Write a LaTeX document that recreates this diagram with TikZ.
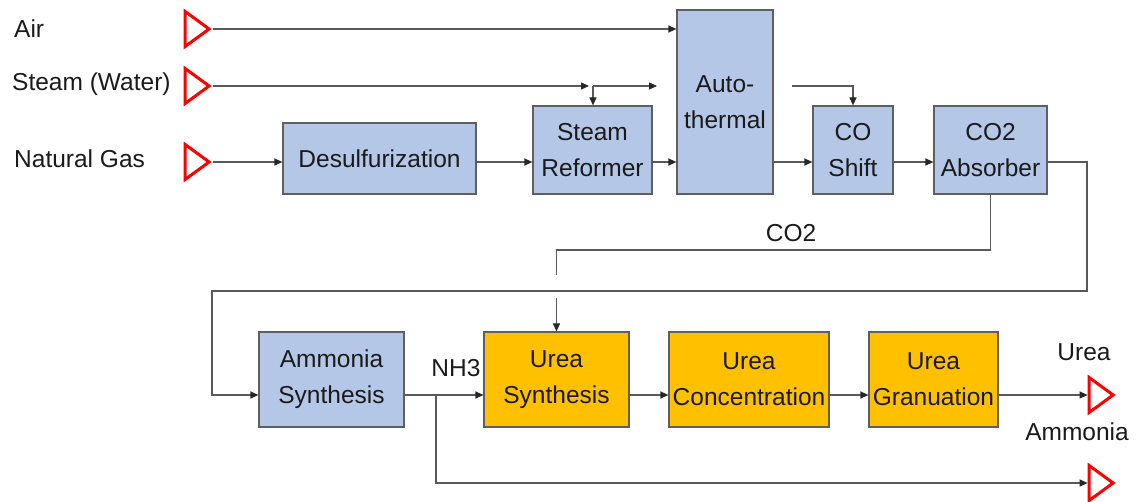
\documentclass[tikz,border=0pt]{standalone}
\usepackage{fontspec}
\setmainfont{Liberation Sans}
\usetikzlibrary{arrows.meta,shapes.geometric}

\definecolor{procblue}{HTML}{B4C7E7}
\definecolor{ureaorange}{HTML}{FFC000}
\definecolor{boxline}{HTML}{5F5F5F}
\definecolor{flowgray}{HTML}{595959}
\definecolor{txt}{HTML}{1A1A1A}

\begin{document}
\begin{tikzpicture}[x=1pt,y=-1pt,
  lbl/.style={inner sep=0pt, text=txt, font=\fontsize{24.5}{36}\selectfont},
  box/.style={draw=boxline, line width=1.2pt, inner sep=0pt, align=center,
              text=txt, font=\fontsize{24.5}{36}\selectfont},
  proc/.style={box, fill=procblue},
  urea/.style={box, fill=ureaorange},
  pipe/.style={draw=flowgray, line width=1.2pt},
  flow/.style={pipe, -{Triangle[length=8pt,width=7pt,color=black!85]}},
  port/.style={isosceles triangle, isosceles triangle stretches,
               minimum width=35pt, minimum height=24pt, inner sep=0pt,
               draw=red, fill=white, line width=3pt}
]
\useasboundingbox (0,0) rectangle (1136,502);

% rows the horizontal streams run along
\coordinate (mainrow) at (0,162);
\coordinate (lowrow) at (0,395);

% feed and product ports
\node[port] (airport)   at (194,29)  {};
\node[port] (steamport) at (194,86)  {};
\node[port] (gasport)   at (194,162) {};
\node[port] (ureaport)  at (1098,395) {};
\node[port] (ammport)   at (1098,483) {};

\node[lbl, anchor=west] (airlbl)   at (14,29)  {Air};
\node[lbl, anchor=west] (steamlbl) at (12,84)  {Steam (Water)};
\node[lbl, anchor=west] (gaslbl)   at (14,159) {Natural Gas};

% process units
\node[proc, minimum width=193pt, minimum height=71pt]  (desulf)   at (379.5,158.5) {Desulfurization};
\node[proc, minimum width=119pt, minimum height=88pt]  (reformer) at (592.5,150)   {Steam\\Reformer};
\node[proc, minimum width=96pt,  minimum height=184pt] (auto)     at (725,102)     {Auto-\\thermal};
\node[proc, minimum width=80pt,  minimum height=88pt]  (coshift)  at (853,150)     {CO\\Shift};
\node[proc, minimum width=113pt, minimum height=88pt]  (absorber) at (990.5,150)   {CO2\\Absorber};
\node[proc, minimum width=145pt, minimum height=95pt]  (ammonia)  at (331.5,379.5) {Ammonia\\Synthesis};
\node[urea, minimum width=145pt, minimum height=95pt]  (ureasyn)  at (556.5,379.5) {Urea\\Synthesis};
\node[urea, minimum width=160pt, minimum height=95pt]  (ureacon)  at (749,379.5)   {Urea\\Concentration};
\node[urea, minimum width=129pt, minimum height=95pt]  (ureagran) at (933.5,379.5) {Urea\\Granuation};

% stream labels
\node[lbl] (co2lbl)  at (791,233)  {CO2};
\node[lbl] (nh3lbl)  at (456,368)  {NH3};
\node[lbl] (urealbl) at (1084,352) {Urea};
\node[lbl] (ammlbl)  at (1077,432) {Ammonia};

% air feed
\draw[flow] (airport.east) -- (airport.east -| auto.west);

% steam feed, split to reformer and autothermal
\coordinate (steamsplit) at (593,86);
\coordinate (steamend)   at (657,86);
\draw[flow, shorten >=4pt] (steamport.east) -- (steamsplit);
\draw[flow] (steamsplit) -- (steamend);
\draw[flow] (steamsplit) -- (steamsplit |- reformer.north);

% natural gas train
\draw[flow] (gasport.east) -- (gasport.east -| desulf.west);
\draw[flow] (desulf.east |- mainrow) -- (reformer.west |- mainrow);
\draw[flow] (reformer.east |- mainrow) -- (auto.west |- mainrow);
\draw[flow] (auto.east |- mainrow) -- (coshift.west |- mainrow);
\draw[flow] (coshift.east |- mainrow) -- (absorber.west |- mainrow);

% autothermal side stream to CO shift
\coordinate (autoout) at (792,86);
\draw[flow] (autoout) -- (autoout -| coshift.north) -- (coshift.north);

% synthesis gas loop to ammonia synthesis
\coordinate (loopa) at (1087,162);
\coordinate (loopb) at (1087,291);
\coordinate (loopc) at (212,291);
\coordinate (loopd) at (212,395);
\draw[flow] (absorber.east |- mainrow) -- (loopa) -- (loopb) -- (loopc) -- (loopd) -- (ammonia.west |- lowrow);

% CO2 to urea synthesis, jumping the loop line
\coordinate (co2a) at (990.5,250);
\coordinate (co2b) at (556.5,250);
\coordinate (co2c) at (556.5,275);
\coordinate (co2d) at (556.5,298);
\draw[pipe] (absorber.south) -- (co2a) -- (co2b) -- (co2c);
\draw[flow] (co2d) -- (ureasyn.north);

% urea train
\draw[flow] (ammonia.east |- lowrow) -- (ureasyn.west |- lowrow);
\draw[flow] (ureasyn.east |- lowrow) -- (ureacon.west |- lowrow);
\draw[flow] (ureacon.east |- lowrow) -- (ureagran.west |- lowrow);
\draw[flow] (ureagran.east |- lowrow) -- (ureaport.west);

% ammonia product
\coordinate (nh3split) at (436,395);
\coordinate (nh3down)  at (436,483);
\draw[flow] (nh3split) -- (nh3down) -- (ammport.west);
\end{tikzpicture}
\end{document}
